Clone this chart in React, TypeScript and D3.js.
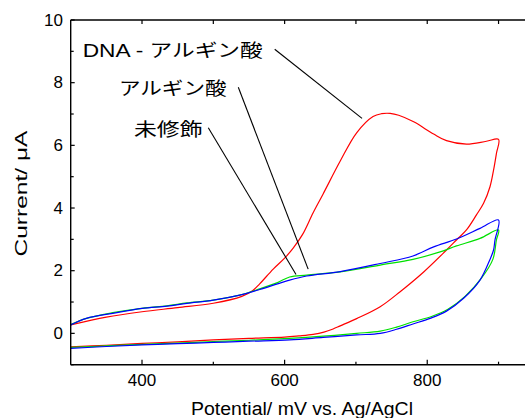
import React from "react";
import * as d3 from "d3";

// ---- Data ----
const redFwdV = [300, 350, 400, 450, 500, 540, 555, 565, 584, 600, 612, 625, 640, 654, 678, 701, 724, 736, 748, 760, 781, 809, 827, 855, 883, 900];
const redFwdI = [0.27, 0.52, 0.69, 0.82, 0.96, 1.18, 1.36, 1.58, 2.05, 2.4, 2.72, 3.15, 3.85, 4.45, 5.5, 6.4, 6.92, 7.01, 7.02, 6.96, 6.75, 6.36, 6.15, 6.04, 6.13, 6.19];
const redRevV = [900, 897, 893, 888, 879, 869, 855, 841, 827, 795, 762, 734, 701, 678, 668, 655, 640, 620, 600, 550, 500, 450, 400, 350, 300];
const redRevI = [6.19, 5.74, 5.21, 4.68, 4.15, 3.78, 3.3, 2.98, 2.66, 1.96, 1.33, 0.85, 0.47, 0.24, 0.14, 0.04, -0.03, -0.08, -0.12, -0.16, -0.21, -0.27, -0.32, -0.38, -0.43];

const greenFwdV = [300, 322, 359, 400, 435, 463, 500, 537, 565, 590, 607, 631, 678, 734, 780, 818, 841, 874, 900];
const greenFwdI = [0.28, 0.48, 0.66, 0.8, 0.88, 0.97, 1.06, 1.22, 1.42, 1.62, 1.8, 1.86, 1.96, 2.18, 2.36, 2.6, 2.79, 3.03, 3.3];
const greenRevV = [900, 897, 892, 876, 853, 829, 806, 780, 757, 734, 701, 654, 607, 550, 500, 450, 400, 350, 300];
const greenRevI = [3.3, 2.98, 2.36, 1.76, 1.18, 0.77, 0.54, 0.37, 0.2, 0.07, 0.0, -0.09, -0.16, -0.22, -0.26, -0.31, -0.35, -0.4, -0.45];

const blueFwdV = [300, 322, 359, 400, 435, 463, 500, 537, 565, 590, 607, 631, 678, 734, 780, 809, 841, 874, 900];
const blueFwdI = [0.27, 0.48, 0.64, 0.8, 0.87, 0.96, 1.06, 1.22, 1.4, 1.58, 1.7, 1.83, 1.97, 2.23, 2.47, 2.76, 3.01, 3.35, 3.62];
const blueRevV = [900, 895, 893, 888, 874, 851, 827, 804, 780, 757, 734, 701, 654, 607, 550, 500, 450, 400, 350, 300];
const blueRevI = [3.62, 2.98, 2.66, 2.36, 1.7, 1.12, 0.71, 0.48, 0.3, 0.13, 0.0, -0.05, -0.13, -0.21, -0.25, -0.29, -0.33, -0.37, -0.42, -0.48];

const xMajorTicks = [400, 600, 800];
const xAllTicks = [300, 400, 500, 600, 700, 800, 900];
const yMajorTicks = [0, 2, 4, 6, 8, 10];
const yMinorTicks = [-1, 1, 3, 5, 7, 9];

const seriesColors = ["#ff0000", "#00e000", "#0000ff"];

const annotations = [
  { text: "DNA - アルギン酸", v: 745, i: 7.0 },
  { text: "アルギン酸", v: 633, i: 2.05 },
  { text: "未修飾", v: 616, i: 1.88 },
];

const xLabel = "Potential/ mV vs. Ag/AgCl";
const yLabel = "Current/ μA";

const W = 525;
const H = 418;

export default function App() {
  const x = d3.scaleLinear().domain([300, 950]).range([70.7, 534.2]);
  const y = d3.scaleLinear().domain([-1, 10]).range([364.7, 20]);

  const mk = (fv: number[], fi: number[], rv: number[], ri: number[]) => {
    const pts: [number, number][] = [];
    fv.forEach((v, k) => pts.push([v, fi[k]]));
    rv.forEach((v, k) => { if (k > 0) pts.push([v, ri[k]]); });
    return pts;
  };
  const series = [
    mk(redFwdV, redFwdI, redRevV, redRevI),
    mk(greenFwdV, greenFwdI, greenRevV, greenRevI),
    mk(blueFwdV, blueFwdI, blueRevV, blueRevI),
  ];
  const line = d3
    .line<[number, number]>()
    .x((d) => x(d[0]))
    .y((d) => y(d[1]))
    .curve(d3.curveCatmullRom.alpha(0.5));

  const font = "'Liberation Sans', Arial, 'Noto Sans CJK JP', sans-serif";
  const jfont = "'Liberation Sans', Arial, 'Noto Sans CJK JP', sans-serif";
  const x0 = x(300);
  const yTop = y(10);
  const yBot = y(-1);

  // annotation label layout (text boxes)
  const labelPos = [
    { x: 82.7, y: 50.7, len: 180, lx: 274.7, ly: 49.3 },
    { x: 119, y: 89, len: 107.5, lx: 238.3, ly: 87.3 },
    { x: 134, y: 130, len: 68.5, lx: 208.3, ly: 127.7 },
  ];

  return (
    <div style={{ position: "absolute", left: 0, top: 0 }}>
      <svg width={W} height={H} style={{ display: "block" }}>
        <rect width={W} height={H} fill="#fff" />
        {/* curves */}
        {series.map((s, k) => (
          <path key={k} d={line(s) || ""} fill="none" stroke={seriesColors[k]} strokeWidth={1.2} />
        ))}
        {/* axes */}
        <line x1={x0} x2={W} y1={yTop} y2={yTop} stroke="#000" strokeWidth={1.4} />
        <line x1={x0} x2={W} y1={yBot} y2={yBot} stroke="#000" strokeWidth={1.4} />
        <line x1={x0} x2={x0} y1={yTop} y2={yBot} stroke="#000" strokeWidth={1.4} />
        {xAllTicks.filter((t) => t > 300).map((t) => (
          <g key={"xt" + t}>
            <line x1={x(t)} x2={x(t)} y1={yBot} y2={yBot - (xMajorTicks.includes(t) ? 5 : 3)} stroke="#000" strokeWidth={1.2} />
            <line x1={x(t)} x2={x(t)} y1={yTop} y2={yTop + 4} stroke="#000" strokeWidth={1.2} />
          </g>
        ))}
        {yMajorTicks.map((t) => (
          <line key={"ym" + t} x1={x0} x2={x0 + 4} y1={y(t)} y2={y(t)} stroke="#000" strokeWidth={1.2} />
        ))}
        {yMinorTicks.map((t) => (
          <line key={"yn" + t} x1={x0} x2={x0 + 3} y1={y(t)} y2={y(t)} stroke="#000" strokeWidth={1.2} />
        ))}
        {yMajorTicks.map((t) => (
          <text key={"yl" + t} x={63} y={y(t)} textAnchor="end" dominantBaseline="central" fontFamily={font} fontSize={17} fill="#000">
            {t}
          </text>
        ))}
        {xMajorTicks.map((t) => (
          <text key={"xl" + t} x={x(t)} y={380} textAnchor="middle" dominantBaseline="central" fontFamily={font} fontSize={17} fill="#000">
            {t}
          </text>
        ))}
        <text x={302} y={415} textAnchor="middle" fontFamily={font} fontSize={18} textLength={222} lengthAdjust="spacingAndGlyphs" fill="#000">
          {xLabel}
        </text>
        <text transform="translate(27,193.5) rotate(-90)" textAnchor="middle" fontFamily={font} fontSize={17} textLength={126} lengthAdjust="spacingAndGlyphs" fill="#000">
          {yLabel}
        </text>
        {/* annotations */}
        {annotations.map((a, k) => {
          const p = labelPos[k];
          return (
            <g key={"an" + k}>
              <text x={p.x} y={p.y} dominantBaseline="central" fontFamily={jfont} fontSize={18} textLength={p.len} lengthAdjust="spacingAndGlyphs" fill="#000">
                {a.text}
              </text>
              <line x1={p.lx} y1={p.ly} x2={x(a.v) - (k === 0 ? 26 : 0)} y2={y(a.i) + (k === 0 ? 4.3 : 0)} stroke="#000" strokeWidth={1.1} />
            </g>
          );
        })}
      </svg>
    </div>
  );
}
